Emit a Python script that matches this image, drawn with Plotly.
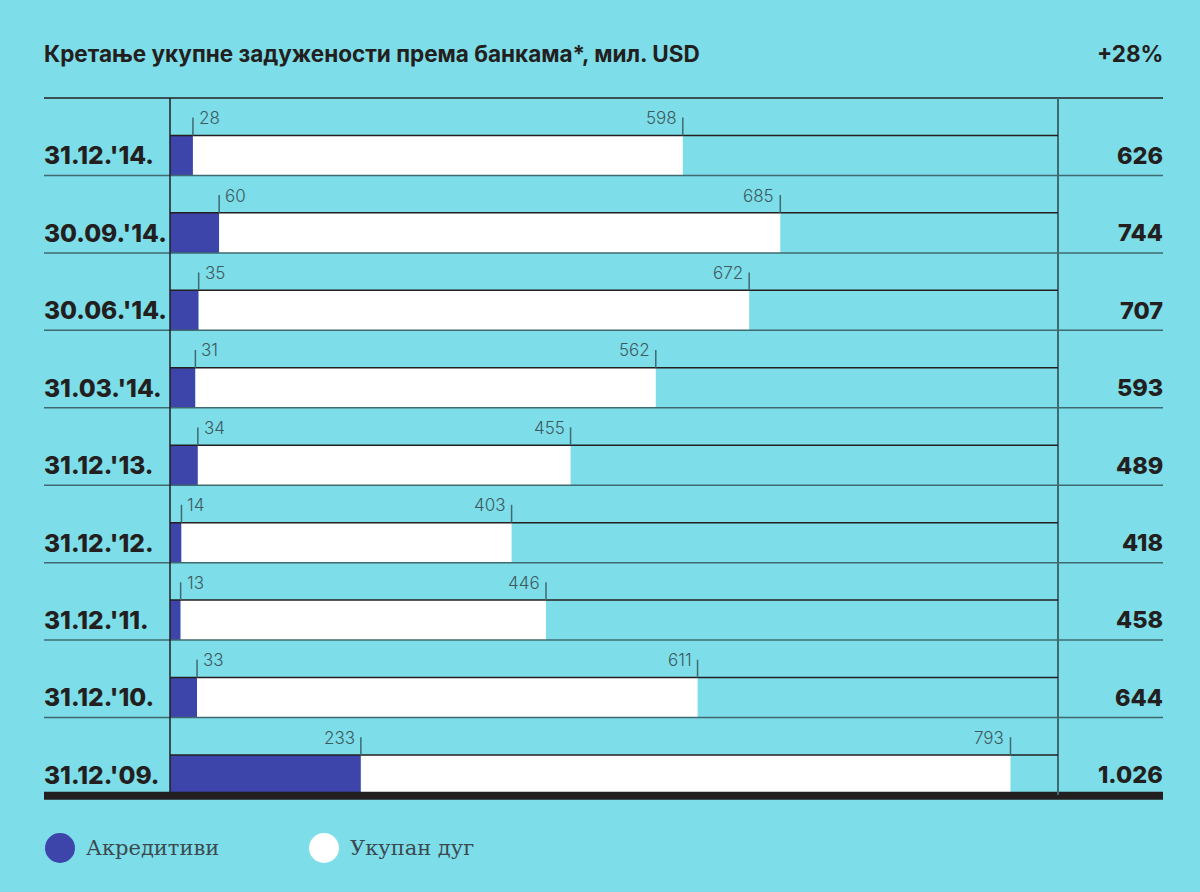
import numpy as np
import plotly.graph_objects as go

# ── DATA ────────────────────────────────────────────────────────────────
DATES = ["31.12.'14.", "30.09.'14.", "30.06.'14.", "31.03.'14.", "31.12.'13.",
         "31.12.'12.", "31.12.'11.", "31.12.'10.", "31.12.'09."]
AKREDITIVI = [28, 60, 35, 31, 34, 14, 13, 33, 233]
UKUPAN_DUG = [598, 685, 672, 562, 455, 403, 446, 611, 793]
TOTALS = ["626", "744", "707", "593", "489", "418", "458", "644", "1.026"]
TITLE = "Кретање укупне задужености према банкама*, мил. USD"
CHANGE = "+28%"
SERIES = ["Акредитиви", "Укупан дуг"]

# ── STYLE ───────────────────────────────────────────────────────────────
W, H = 1200, 892
BG = "#7ddde8"
BLUE = "#3d44aa"
DARK = "#231f20"
GREY = "#3f6a70"
LABEL = "#3c5a60"
SANS = "Inter, 'Open Sans', sans-serif"
XMAX = 1084          # value at the right frame line
BAR_W = 0.517        # bar thickness in row units
BAR_OFF = -0.017     # bar starts just above the row centre
TICK_LEN = 0.23
PAD = 0.1            # extra room round the frame so lines are not clipped

rows = np.arange(len(DATES))
n = len(rows)

# pixel frame: x 170..1058 <-> 0..XMAX, rows 98..795 <-> -0.5..n-0.5
PX_PER_X = (1058 - 170) / XMAX
PX_PER_ROW = (795 - 98) / n
LEFT, RIGHT = 44 / W, 1163 / W
X0 = (170 - 10 * PX_PER_X) / W
X1 = (1058 + 10 * PX_PER_X) / W
Y_TOP = 1 - (98 - PAD * PX_PER_ROW) / H
Y_BOT = 1 - (795 + PAD * PX_PER_ROW) / H

fig = go.Figure()
fig.add_trace(go.Bar(
    y=rows, x=AKREDITIVI, orientation="h", name=SERIES[0],
    marker=dict(color=BLUE, line_width=0), width=BAR_W, offset=BAR_OFF,
    hovertemplate="%{x}<extra>" + SERIES[0] + "</extra>"))
fig.add_trace(go.Bar(
    y=rows, x=UKUPAN_DUG, base=AKREDITIVI, orientation="h", name=SERIES[1],
    marker=dict(color="white", line_width=0), width=BAR_W, offset=BAR_OFF,
    hovertemplate="%{x}<extra>" + SERIES[1] + "</extra>"))

shapes = []
annotations = []

# row separators
for i in rows:
    shapes.append(dict(type="line", xref="paper", yref="y", x0=LEFT, x1=RIGHT,
                       y0=i - 0.5, y1=i - 0.5,
                       line=dict(color=DARK if i == 0 else GREY, width=1.5)))
# thick bottom rule
shapes.append(dict(type="line", xref="paper", yref="y", x0=LEFT, x1=RIGHT,
                   y0=n - 0.5 + 0.01, y1=n - 0.5 + 0.01, line=dict(color=DARK, width=8)))
# frame verticals
shapes.append(dict(type="line", xref="x", yref="y", x0=0, x1=0,
                   y0=-0.5, y1=n - 0.5, line=dict(color=DARK, width=1.5)))
shapes.append(dict(type="line", xref="x", yref="y", x0=XMAX, x1=XMAX,
                   y0=-0.5, y1=n - 0.5, line=dict(color=GREY, width=2)))

for i, (a, d) in enumerate(zip(AKREDITIVI, UKUPAN_DUG)):
    top = i + BAR_OFF
    # line on top of each bar
    shapes.append(dict(type="line", xref="x", yref="y", x0=0, x1=XMAX,
                       y0=top, y1=top, line=dict(color=DARK, width=1.5)))
    # value ticks
    for xv in (a, a + d):
        shapes.append(dict(type="line", xref="x", yref="y", x0=xv, x1=xv,
                           y0=top, y1=top - TICK_LEN,
                           line=dict(color=GREY, width=1.5)))
    lab_y = i - 0.24
    big = a > 100
    annotations.append(dict(x=a, y=lab_y, xref="x", yref="y", text=str(a),
                            showarrow=False, yanchor="middle",
                            xanchor="right" if big else "left",
                            xshift=-4 if big else 4,
                            font=dict(family=SANS, size=17, color=LABEL, weight=300)))
    annotations.append(dict(x=a + d, y=lab_y, xref="x", yref="y", text=str(d),
                            showarrow=False, xanchor="right", yanchor="middle", xshift=-4,
                            font=dict(family=SANS, size=17, color=LABEL, weight=300)))
    # date and total
    annotations.append(dict(x=LEFT, y=i + 0.24, xref="paper", yref="y",
                            text=DATES[i], showarrow=False, xanchor="left", yanchor="middle",
                            xshift=-2,
                            font=dict(family=SANS, size=24.5, color=DARK, weight=800)))
    annotations.append(dict(x=RIGHT, y=i + 0.24, xref="paper", yref="y",
                            text=TOTALS[i], showarrow=False, xanchor="right", yanchor="middle",
                            xshift=2,
                            font=dict(family=SANS, size=23.5, color=DARK, weight=800)))

# title and change
annotations.append(dict(x=LEFT, y=1 - 53 / H, xref="paper", yref="paper",
                        text=TITLE, showarrow=False, xanchor="left", yanchor="middle",
                        xshift=-2,
                        font=dict(family=SANS, size=22.5, color=DARK, weight=700)))
annotations.append(dict(x=RIGHT, y=1 - 53 / H, xref="paper", yref="paper",
                        text=CHANGE, showarrow=False, xanchor="right", yanchor="middle",
                        xshift=2,
                        font=dict(family=SANS, size=22.5, color=DARK, weight=700)))

# legend
for name, col, lx in zip(SERIES, [BLUE, "white"], [60, 324]):
    shapes.append(dict(type="circle", xref="paper", yref="paper",
                       x0=(lx - 15) / W, x1=(lx + 15) / W,
                       y0=1 - 863 / H, y1=1 - 833 / H,
                       fillcolor=col, line_width=0))
    annotations.append(dict(x=(lx + 24) / W, y=1 - 848 / H, xref="paper", yref="paper",
                            text=name, showarrow=False, xanchor="left", yanchor="middle",
                            font=dict(family="'DejaVu Serif', serif", size=21, color="#3a4a50")))

fig.update_layout(
    width=W, height=H,
    margin=dict(l=0, r=0, t=0, b=0),
    paper_bgcolor=BG, plot_bgcolor=BG,
    barmode="overlay", showlegend=False,
    xaxis=dict(domain=[X0, X1], range=[-10, XMAX + 10], visible=False, fixedrange=True),
    yaxis=dict(domain=[Y_BOT, Y_TOP], range=[n - 0.5 + PAD, -0.5 - PAD],
               visible=False, fixedrange=True),
    shapes=shapes, annotations=annotations,
)

fig.write_html("out.html", config={"displayModeBar": False},
               post_script="document.body.style.margin='0';")
